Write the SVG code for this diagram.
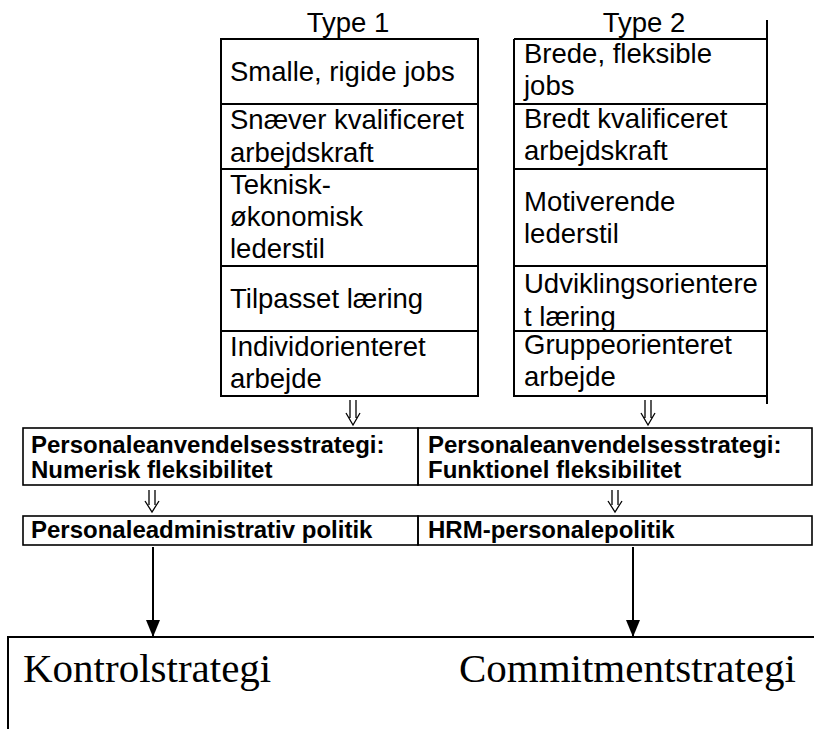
<svg xmlns="http://www.w3.org/2000/svg" width="814" height="729" viewBox="0 0 814 729">
<style>
.t{font-family:"Liberation Sans",Arial,sans-serif;font-size:27.5px;fill:#000}
.b{font-family:"Liberation Sans",Arial,sans-serif;font-size:24px;font-weight:bold;fill:#000}
.s{font-family:"Liberation Serif","Times New Roman",serif;font-size:41px;fill:#000}
.ln{stroke:#000;stroke-width:2;fill:none}
.bx{stroke:#000;stroke-width:1.6;fill:none}
.dbl{stroke:#000;stroke-width:1.3;fill:none}
</style>
<defs>
<marker id="ah" viewBox="0 0 17 14" refX="17" refY="7" markerWidth="17" markerHeight="14" markerUnits="userSpaceOnUse" orient="auto">
<path d="M0,0 L17,7 L0,14 Z" fill="#000"/>
</marker>
</defs>
<rect width="814" height="729" fill="#fff"/>
<g id="type1">
<text class="t" x="348" y="32" text-anchor="middle">Type 1</text>
<path class="ln" d="M221,39 H478 V396 H221 Z M221,104 H478 M221,169 H478 M221,266 H478 M221,331 H478"/>
<text class="t" x="230" y="81">Smalle, rigide jobs</text>
<text class="t" x="230" y="129">Snæver kvalificeret</text>
<text class="t" x="230" y="162">arbejdskraft</text>
<text class="t" x="230" y="194">Teknisk-</text>
<text class="t" x="230" y="226">økonomisk</text>
<text class="t" x="230" y="258">lederstil</text>
<text class="t" x="230" y="308">Tilpasset læring</text>
<text class="t" x="230" y="356">Individorienteret</text>
<text class="t" x="230" y="388">arbejde</text>
</g>
<g id="type2">
<text class="t" x="644" y="32" text-anchor="middle">Type 2</text>
<path class="ln" d="M767,20 V404 M514,39 H767 M514,39 V396 H767 M514,104 H767 M514,169 H767 M514,266 H767 M514,331 H767"/>
<text class="t" x="524" y="63">Brede, fleksible</text>
<text class="t" x="524" y="95">jobs</text>
<text class="t" x="524" y="128">Bredt kvalificeret</text>
<text class="t" x="524" y="160">arbejdskraft</text>
<text class="t" x="524" y="211">Motiverende</text>
<text class="t" x="524" y="243">lederstil</text>
<text class="t" x="524" y="293">Udviklingsorientere</text>
<text class="t" x="524" y="326">t læring</text>
<text class="t" x="524" y="354">Gruppeorienteret</text>
<text class="t" x="524" y="386">arbejde</text>
</g>
<g id="strategy-numerisk">
<rect class="bx" x="23" y="428" width="395" height="57"/>
<text class="b" x="31" y="453">Personaleanvendelsesstrategi:</text>
<text class="b" x="31" y="478">Numerisk fleksibilitet</text>
</g>
<g id="strategy-funktionel">
<rect class="bx" x="418" y="428" width="394" height="57"/>
<text class="b" x="428" y="453">Personaleanvendelsesstrategi:</text>
<text class="b" x="428" y="478">Funktionel fleksibilitet</text>
</g>
<g id="policy-admin">
<rect class="bx" x="23" y="516" width="395" height="29"/>
<text class="b" x="31" y="538">Personaleadministrativ politik</text>
</g>
<g id="policy-hrm">
<rect class="bx" x="418" y="516" width="394" height="29"/>
<text class="b" x="428" y="538">HRM-personalepolitik</text>
</g>
<g id="result">
<path class="ln" d="M8,729 V637 H814"/>
<text class="s" x="23" y="682">Kontrolstrategi</text>
<text class="s" x="796" y="682" text-anchor="end">Commitmentstrategi</text>
</g>
<g id="connectors">
<path class="dbl" d="M350,400 V418 M356,400 V418 M346,413 L353,425 L360,413"/>
<path class="dbl" d="M645,400 V418 M651,400 V418 M641,413 L648,425 L655,413"/>
<path class="dbl" d="M149,490 V505 M155,490 V505 M145,501 L152,512 L159,501"/>
<path class="dbl" d="M612,490 V505 M618,490 V505 M608,501 L615,512 L622,501"/>
<path class="ln" d="M153,547 V637" marker-end="url(#ah)"/>
<path class="ln" d="M633,547 V637" marker-end="url(#ah)"/>
</g>
</svg>
